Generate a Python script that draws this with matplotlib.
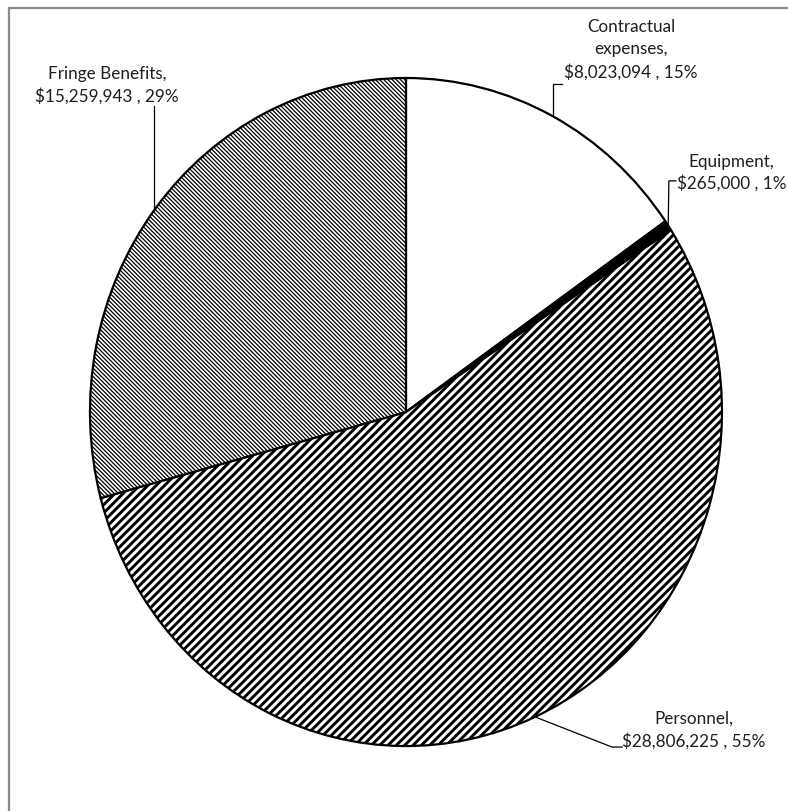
import numpy as np
import matplotlib
matplotlib.use("Agg")
import matplotlib.pyplot as plt
from matplotlib.patches import Rectangle

# Budget breakdown
categories = ["Contractual\nexpenses,", "Equipment,", "Personnel,", "Fringe Benefits,"]
amounts = [8023094, 265000, 28806225, 15259943]
value_labels = ["$8,023,094 , 15%", "$265,000 , 1%", "$28,806,225 , 55%", "$15,259,943 , 29%"]

fig = plt.figure(figsize=(7.88, 8.12), dpi=100)
fig.patch.set_facecolor("white")

# light grey chart frame
fig.add_artist(Rectangle((9 / 788, -0.05), 1.2, 1 - 9 / 812 + 0.05,
                         transform=fig.transFigure, fill=False,
                         edgecolor="#8a8a8a", linewidth=1.6))

ax = fig.add_axes([0.1142, 0.0800, 0.802, 0.8227])
wedges, _ = ax.pie(amounts, startangle=90, counterclock=False, radius=1,
                   colors=["white", "black", "white", "white"],
                   wedgeprops=dict(edgecolor="black", linewidth=1.6))
ax.set_aspect("auto")
ax.set_xlim(-1, 1)
ax.set_ylim(-1, 1)
ax.axis("off")

hatches = [None, None, "////", "\\" * 8]
hatch_widths = [1.0, 1.0, 2.1, 0.9]
for w, h, hw in zip(wedges, hatches, hatch_widths):
    if h:
        w.set_hatch(h)
        if hasattr(w, "set_hatch_linewidth"):
            w.set_hatch_linewidth(hw)

font = dict(family=["Lato", "DejaVu Sans"], size=12.3, color="#1e1e1e")


def edge(angle_deg):
    a = np.deg2rad(angle_deg)
    return np.cos(a), np.sin(a)


def leader(points):
    xs, ys = zip(*points)
    ax.plot(xs, ys, color="black", linewidth=0.9, clip_on=False)


# Contractual expenses
ex, ey = edge(62.3)
leader([(ex, ey), (ex, 0.982), (ex + 0.029, 0.982)])
ax.text(0.712, 1.087, categories[0] + "\n" + value_labels[0], ha="center", va="center",
        multialignment="center", linespacing=1.45, **font)

# Equipment
mid = (wedges[1].theta1 + wedges[1].theta2) / 2
ex, ey = edge(mid)
leader([(ex, ey), (0.832, 0.692), (0.854, 0.692)])
ax.text(1.030, 0.719, categories[1] + "\n" + value_labels[1], ha="center", va="center",
        multialignment="center", linespacing=1.3, **font)

# Fringe Benefits
ex, ey = edge(142.9)
leader([(ex, ey), (ex, 0.916)])
ax.text(-0.946, 0.982, categories[3] + "\n" + value_labels[3], ha="center", va="center",
        multialignment="center", linespacing=1.4, **font)

# Personnel
ex, ey = edge(-65.9)
leader([(ex, ey), (0.652, -1.003), (0.684, -1.003)])
ax.text(0.911, -0.949, categories[2] + "\n" + value_labels[2], ha="center", va="center",
        multialignment="center", linespacing=1.4, **font)

fig.savefig("out.png", dpi=100, facecolor="white")
